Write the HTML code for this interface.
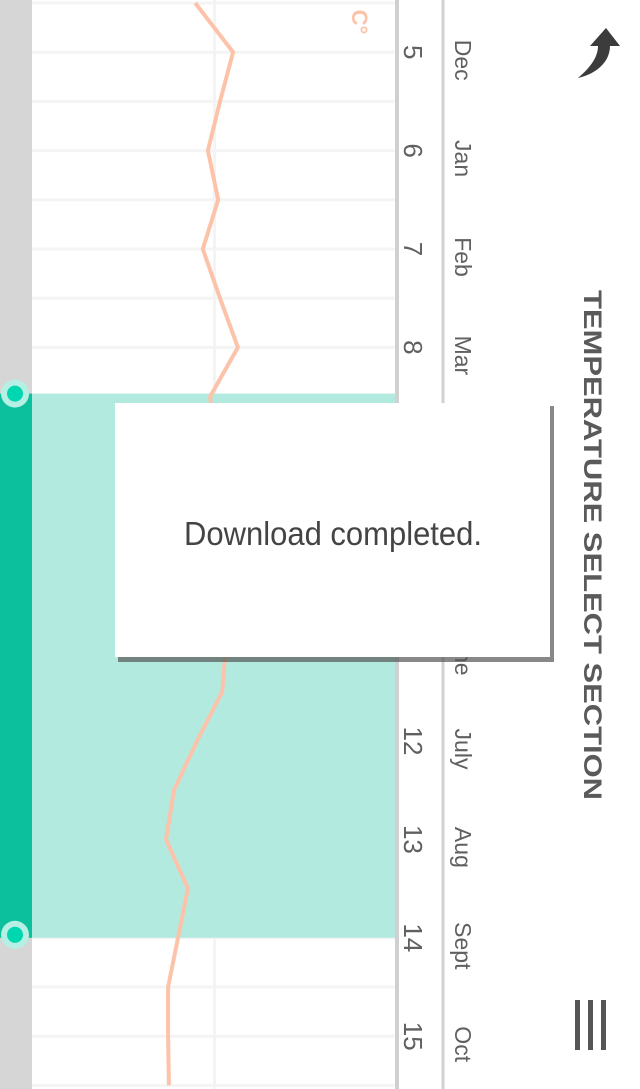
<!DOCTYPE html>
<html><head><meta charset="utf-8"><style>
html,body{margin:0;padding:0;background:#fff;width:640px;height:1089px;overflow:hidden}
svg{display:block}
text{font-family:"Liberation Sans",sans-serif}
</style></head><body>
<svg id="chart" width="640" height="1089" viewBox="0 0 640 1089" xmlns="http://www.w3.org/2000/svg">
  <rect x="0" y="0" width="640" height="1089" fill="#fff"/>
  <rect x="0" y="0" width="32" height="1089" fill="#d6d6d6"/>
  <g id="grid"></g>
  <rect id="selection" fill="#b2eae0"/>
  <rect id="selbar" fill="#0cbf9d"/>
  <g id="series"></g>
  <line x1="397" y1="0" x2="397" y2="1089" stroke="#d0d0d0" stroke-width="4"/>
  <line x1="443" y1="0" x2="443" y2="1089" stroke="#d0d0d0" stroke-width="3"/>
  <text transform="translate(352,22) rotate(90)" font-size="22" font-weight="bold" fill="#fcc1a8" text-anchor="middle">C°</text>
  <g id="ticks"></g>
  <g id="months"></g>
  <path d="M578 78 C592 66 598 56 598 46 L590 46 L606 28 L620 46 L610 46 C610 62 596 74 578 78 Z" fill="#3c3c3c"/>
  <text transform="translate(584,545) rotate(90)" font-size="25" font-weight="bold" fill="#5a5a5a" text-anchor="middle" textLength="510" lengthAdjust="spacingAndGlyphs">TEMPERATURE SELECT SECTION</text>
  <g fill="#555">
    <rect x="575" y="1000" width="5" height="50"/>
    <rect x="588" y="1000" width="5" height="50"/>
    <rect x="601" y="1000" width="5" height="50"/>
  </g>
  <g>
    <rect x="118" y="406" width="436" height="256" fill="#555" opacity="0.7"/>
    <rect x="115" y="403" width="435" height="254" fill="#fff"/>
    <text x="333" y="545" font-size="33" fill="#444" text-anchor="middle" textLength="298" lengthAdjust="spacingAndGlyphs">Download completed.</text>
  </g>
</svg>
<script>
const tickLabels = ["5","6","7","8","9","10","11","12","13","14","15"];
const monthLabels = ["Dec","Jan","Feb","Mar","Apr","May","June","July","Aug","Sept","Oct"];
const temps = [55.3,44.9,48.5,51.8,49.0,53.2,48.5,43.6,51.2,49.9,48.5,47.9,47.1,46.8,47.9,54.8,61.1,63.3,57.3,60.0,62.7,62.7,62.5];
const selStart = 8;
const selEnd = 19;

const NS = "http://www.w3.org/2000/svg";
function yScale(i){ return 3 + i*49.2; }
function xScale(v){ return 397 - v*3.65; }
function mk(tag, attrs, parent){ const e=document.createElementNS(NS,tag); for(const k in attrs) e.setAttribute(k,attrs[k]); parent.appendChild(e); return e; }

const grid=document.getElementById('grid');
for(let i=0;i<temps.length;i++){
  const l=mk('line',{x1:32,x2:397,y1:yScale(i),y2:yScale(i),stroke:'#f4f4f4','stroke-width':3},grid);
  
  
}
const vg=mk('line',{x1:xScale(50),x2:xScale(50),y1:0,y2:1089,stroke:'#f4f4f4','stroke-width':3},grid);



const sel=document.getElementById('selection');
sel.setAttribute('x',32); sel.setAttribute('width',365);
sel.setAttribute('y',yScale(selStart)-3); sel.setAttribute('height',yScale(selEnd)-yScale(selStart)+3);
const sb=document.getElementById('selbar');
sb.setAttribute('x',0); sb.setAttribute('width',32);
sb.setAttribute('y',yScale(selStart)-3); sb.setAttribute('height',yScale(selEnd)-yScale(selStart)+3);

const series=document.getElementById('series');
let d='';
temps.forEach((v,i)=>{ d+=(i?'L':'M')+xScale(v).toFixed(1)+' '+yScale(i).toFixed(1)+' '; });
const p=mk('path',{d:d,fill:'none',stroke:'#fcc3aa','stroke-width':4,'stroke-linejoin':'round'},series);



[selStart,selEnd].forEach((i,k)=>{
  const y=yScale(i)-3;
  const c1=mk('circle',{cx:15,cy:y,r:14,fill:'#b6efe3'},series);
  
  
  mk('circle',{cx:15,cy:y,r:8,fill:'#00d6b0'},series);
});

const ticks=document.getElementById('ticks');
const months=document.getElementById('months');
tickLabels.forEach((t,i)=>{
  const y=yScale(1+2*i);
  const tx=mk('text',{transform:`translate(404,${y}) rotate(90)`,'font-size':26,fill:'#606060','text-anchor':'middle'},ticks);
  tx.textContent=t;
  
  
  const mx=mk('text',{transform:`translate(455,${y+8}) rotate(90)`,'font-size':23,fill:'#606060','text-anchor':'middle'},months);
  mx.textContent=monthLabels[i];
  
  
});
</script>
</body></html>
